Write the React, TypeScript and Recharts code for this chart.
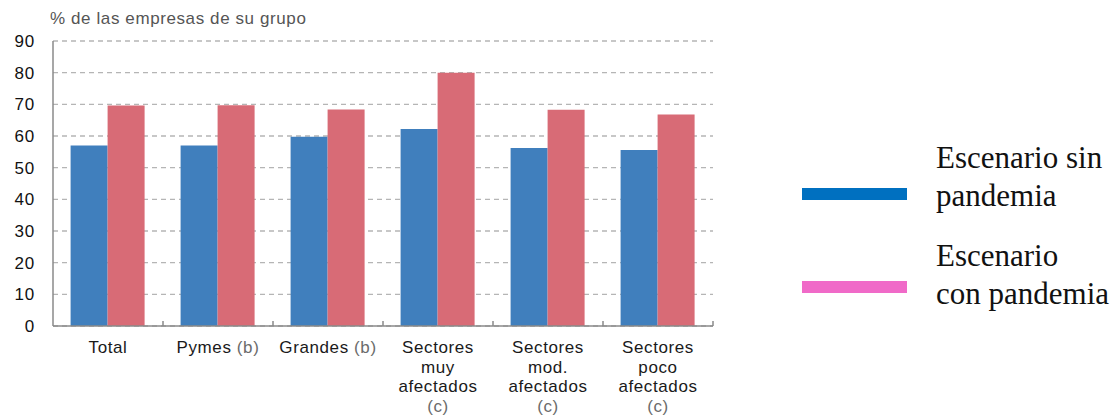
import React from 'react';
import { BarChart, Bar, XAxis, YAxis, CartesianGrid } from 'recharts';

const categories = [
  ['Total'],
  ['Pymes|(b)'],
  ['Grandes|(b)'],
  ['Sectores', 'muy', 'afectados', '(c)'],
  ['Sectores', 'mod.', 'afectados', '(c)'],
  ['Sectores', 'poco', 'afectados', '(c)'],
];
const sinPandemia = [57, 57, 59.8, 62.2, 56.2, 55.6];
const conPandemia = [69.6, 69.7, 68.4, 80, 68.3, 66.8];
const yTicks = [0, 10, 20, 30, 40, 50, 60, 70, 80, 90];
const legendItems = [
  { lines: ['Escenario sin', 'pandemia'], color: '#0070C0' },
  { lines: ['Escenario', 'con pandemia'], color: '#F06AC8' },
];

const data = categories.map((c, i) => ({
  name: c.join('/'),
  sin: sinPandemia[i],
  con: conPandemia[i],
}));

const sans = 'Arial, "Liberation Sans", Helvetica, sans-serif';

const CategoryTick = (props: any) => {
  const { x, y, payload } = props;
  const half = payload && payload.offset ? payload.offset : 55;
  const lines: string[] = String(payload.value).split('/');
  return (
    <g>
      <line x1={x + half} x2={x + half} y1={y} y2={y - 5} stroke="#8a8a8a" strokeWidth={1.5} />
      <text x={x} y={y} textAnchor="middle" fontFamily={sans} fontSize={17} fill="#1a1a1a" letterSpacing={0.6}>
        {lines.map((ln, i) => {
          const [main, extra] = ln.split('|');
          const gray = main.startsWith('(');
          return (
            <tspan key={i} x={x} dy={i === 0 ? 27 : 19.5} fill={gray ? '#6b6b6b' : '#1a1a1a'}>
              {main}
              {extra ? <tspan fill="#6b6b6b"> {extra}</tspan> : null}
            </tspan>
          );
        })}
      </text>
    </g>
  );
};

export default function App() {
  return (
    <div style={{ position: 'absolute', left: 0, top: 0, width: 1120, height: 415, background: '#fff' }}>
      <div
        style={{
          position: 'absolute',
          left: 50,
          top: 9,
          fontFamily: sans,
          fontSize: 17,
          color: '#555',
          letterSpacing: 0.6,
        }}
      >
        % de las empresas de su grupo
      </div>
      <BarChart
        width={1120}
        height={415}
        data={data}
        margin={{ top: 41, right: 407, left: 13, bottom: 0 }}
        barCategoryGap="16%"
        barGap={0}
      >
        <CartesianGrid vertical={false} stroke="#b5b5b5" strokeDasharray="5 4" strokeWidth={1.3} />
        <XAxis
          dataKey="name"
          height={89}
          axisLine={{ stroke: '#8a8a8a', strokeWidth: 1.5 }}
          tickLine={false}
          tickSize={0}
          tickMargin={0}
          interval={0}
          tick={<CategoryTick />}
        />
        <YAxis
          width={40}
          domain={[0, 90]}
          ticks={yTicks}
          interval={0}
          axisLine={{ stroke: '#8a8a8a', strokeWidth: 1.5 }}
          tickLine={false}
          tickSize={0}
          tickMargin={18}
          tick={{ fontFamily: sans, fontSize: 17, fill: '#111', letterSpacing: 0.8 }}
        />
        <Bar dataKey="sin" fill="#407FBD" isAnimationActive={false} />
        <Bar dataKey="con" fill="#D86B76" isAnimationActive={false} />
      </BarChart>
      {legendItems.map((item, i) => (
        <div key={i}>
          <div
            style={{
              position: 'absolute',
              left: 802,
              top: i === 0 ? 188 : 281,
              width: 105,
              height: 12,
              background: item.color,
            }}
          />
          <div
            style={{
              position: 'absolute',
              left: 936,
              top: i === 0 ? 139 : 237,
              fontFamily: '"Liberation Serif", "Times New Roman", serif',
              fontSize: 31,
              lineHeight: '38px',
              color: '#111',
              whiteSpace: 'nowrap',
            }}
          >
            {item.lines.map((l, j) => (
              <div key={j}>{l}</div>
            ))}
          </div>
        </div>
      ))}
    </div>
  );
}
